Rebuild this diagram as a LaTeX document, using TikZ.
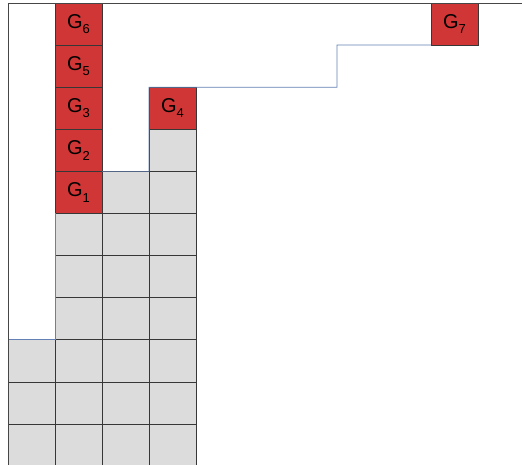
\documentclass[tikz,border=0pt]{standalone}
\usepackage{fontspec}
\setmainfont{Liberation Sans}
\definecolor{cellgray}{RGB}{220,220,220}
\definecolor{cellred}{RGB}{208,54,54}
\definecolor{cellline}{RGB}{55,55,55}
\definecolor{skyblue}{RGB}{100,128,180}
\definecolor{frameline}{RGB}{70,70,70}
\newcommand{\glabel}[1]{G\raisebox{-5.5pt}{\fontsize{13}{13}\selectfont #1}}
\begin{document}
\begin{tikzpicture}[x=1pt,y=-1pt,
  cell/.style={draw=cellline, line width=0.8pt, minimum width=47pt, minimum height=42.1pt,
    inner sep=0pt, outer sep=0pt, anchor=north west},
  graycell/.style={cell, fill=cellgray},
  redcell/.style={cell, fill=cellred, font=\fontsize{20}{20}\selectfont},
  sky/.style={draw=skyblue, line width=0.7pt},
  frame/.style={draw=frameline, line width=0.9pt}]
\useasboundingbox (0,0) rectangle (522,465);
\begin{scope}
\clip (0,0) rectangle (522,465);
% gray cells
\foreach \r in {8,9,10} \node[graycell] (c-0-\r) at (8,3+42.1*\r) {};
\foreach \r in {5,...,10} \node[graycell] (c-1-\r) at (55,3+42.1*\r) {};
\foreach \r in {4,...,10} \node[graycell] (c-2-\r) at (102,3+42.1*\r) {};
\foreach \r in {3,...,10} \node[graycell] (c-3-\r) at (149,3+42.1*\r) {};
% red cells
\node[redcell] (g6) at (55,3) {\glabel{6}};
\node[redcell] (g5) at (55,3+42.1) {\glabel{5}};
\node[redcell] (g3) at (55,3+42.1*2) {\glabel{3}};
\node[redcell] (g2) at (55,3+42.1*3) {\glabel{2}};
\node[redcell] (g1) at (55,3+42.1*4) {\glabel{1}};
\node[redcell] (g4) at (149,3+42.1*2) {\glabel{4}};
\node[redcell] (g7) at (431,3) {\glabel{7}};
% skyline
\coordinate (s1) at (337,87.2);
\coordinate (s2) at (337,45.1);
\draw[sky] (c-0-8.north west) -- (c-0-8.north east) -- (g1.south west);
\draw[sky] (c-2-4.north west) -- (c-2-4.north east) -- (g4.north west) -- (g4.north east) -- (s1) -- (s2) -- (g7.south west);
% frame
\coordinate (tr) at (522,3);
\coordinate (bl) at (8,465);
\draw[frame] (tr) -- (g6.north west -| bl) -- (bl);
\end{scope}
\end{tikzpicture}
\end{document}
